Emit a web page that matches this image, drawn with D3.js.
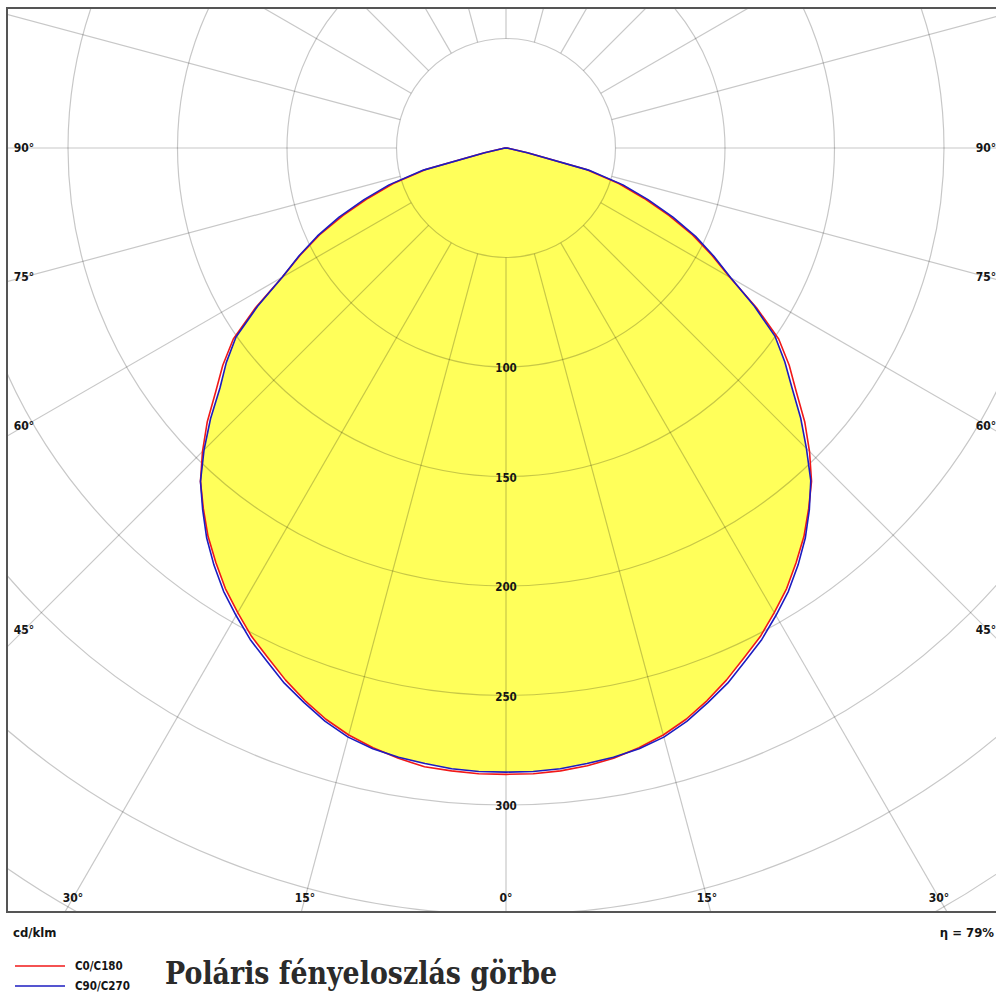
<!DOCTYPE html>
<html>
<head>
<meta charset="utf-8">
<script src="https://cdn.jsdelivr.net/npm/d3@7"></script>
<style>
  body { margin: 0; background: #fff; }
  svg { display: block; }
  .lbl { font-family: "DejaVu Sans Condensed", "DejaVu Sans", sans-serif; font-weight: bold; font-size: 11.5px; fill: #151515; }
</style>
</head>
<body>
<svg id="chart" width="996" height="995"></svg>
<script>
// gamma angles (deg) shared by every series: 0, 2.5 ... 90
const gammas = [0, 2.5, 5, 7.5, 10, 12.5, 15, 17.5, 20, 22.5, 25, 27.5, 30, 32.5, 35, 37.5, 40, 42.5, 45,
    47.5, 50, 52.5, 55, 57.5, 60, 62.5, 65, 67.5, 70, 72.5, 75, 77.5, 80, 82.5, 85, 87.5, 90];
// cd/klm values per C-plane half
const c0   = [286, 286, 285.5, 284.5, 283, 280.5, 277.5, 273.5, 268.5, 263, 257, 251.5, 245, 238.5, 231, 223.5, 215, 206.5, 196,
    185, 173, 163, 152, 135.5, 118, 106, 94, 80.5, 67, 54, 38, 10, 2, 1, 0.5, 0, 0];
const c180 = [286, 286, 285.5, 285, 283, 280.5, 277.5, 273.5, 268.5, 263, 257, 251.5, 245, 238.5, 231, 223.5, 215, 206.5, 196,
    185, 173, 163, 152, 135.5, 118, 106, 94, 80.5, 67, 54, 38, 10, 2, 1, 0.5, 0, 0];
const c90  = [285, 285, 284.5, 283.5, 282.5, 281, 278.5, 274.5, 269.5, 264.5, 258.5, 253, 246.5, 240, 232.5, 224.5, 215.5, 206, 194,
    182.5, 170.5, 160.5, 150, 134.5, 118.5, 107, 95.5, 82.5, 69, 56, 39, 10, 2, 1, 0.5, 0, 0];
const c270 = [285, 285, 284.5, 283.5, 282.5, 281, 278.5, 274.5, 269.5, 264.5, 258.5, 253, 246.5, 240, 232.5, 224.5, 215.5, 206.5, 195,
    183, 170.5, 161, 150.5, 134.5, 118, 106.5, 95, 82.5, 69, 56, 39, 10, 2, 1, 0.5, 0, 0];

const ringValues = [50, 100, 150, 200, 250, 300, 350, 400, 450];
const ringLabels = [100, 150, 200, 250, 300];
const spokeAngles = d3.range(0, 360, 15);
const sideLabels = [90, 75, 60, 45];
const bottomLabels = [30, 15, 0];
const legendItems = ['C0/C180', 'C90/C270'];
const unitText = 'cd/klm';
const etaText = 'η = 79%';
const titleText = 'Poláris fényeloszlás görbe';

const svg = d3.select('#chart');
const cx = 506;
const cy = 148;
const frame = { x: 7, y: 8, w: 998, h: 904 };

const r = d3.scaleLinear().domain([0, 300]).range([0, 657]);
const rad = (deg) => (deg * Math.PI) / 180;

const defs = svg.append('defs');

// Clip everything to the frame
defs.append('clipPath').attr('id', 'frameClip')
    .append('rect')
    .attr('x', frame.x).attr('y', frame.y)
    .attr('width', frame.w).attr('height', frame.h);

// one full curve: left half (C180 / C270) from 90 down to 0, right half (C0 / C90) from 0 up to 90
const toPoints = (left, right) => {
    const pts = [];
    for (let i = gammas.length - 1; i >= 0; i--) pts.push([Math.PI + rad(gammas[i]), r(left[i])]);
    for (let i = 0; i < gammas.length; i++) pts.push([Math.PI - rad(gammas[i]), r(right[i])]);
    return pts;
};

const radial = d3.lineRadial()
    .angle((d) => d[0])
    .radius((d) => d[1])
    .curve(d3.curveLinearClosed);

const redPts = toPoints(c180, c0);
const bluePts = toPoints(c270, c90);

const plot = svg.append('g').attr('clip-path', 'url(#frameClip)');

// Fill: area shared by both planes
defs.append('clipPath').attr('id', 'blueClip')
    .append('path')
    .attr('transform', `translate(${cx},${cy})`)
    .attr('d', radial(bluePts));

plot.append('g').attr('clip-path', 'url(#blueClip)')
    .append('path')
    .attr('transform', `translate(${cx},${cy})`)
    .attr('d', radial(redPts))
    .attr('fill', '#ffff5a');

const g = plot.append('g').attr('transform', `translate(${cx},${cy})`);

// Grid rings
g.selectAll('.ring')
    .data(ringValues)
    .enter()
    .append('circle')
    .attr('class', 'ring')
    .attr('r', (d) => r(d))
    .attr('fill', 'none')
    .attr('stroke', '#000')
    .attr('stroke-opacity', 0.22)
    .attr('stroke-width', 1.2);

// Spokes from the inner ring outwards
g.selectAll('.spoke')
    .data(spokeAngles)
    .enter()
    .append('line')
    .attr('class', 'spoke')
    .attr('x1', (d) => d3.pointRadial(rad(d), r(50))[0])
    .attr('y1', (d) => d3.pointRadial(rad(d), r(50))[1])
    .attr('x2', (d) => d3.pointRadial(rad(d), r(600))[0])
    .attr('y2', (d) => d3.pointRadial(rad(d), r(600))[1])
    .attr('stroke', '#000')
    .attr('stroke-opacity', 0.22)
    .attr('stroke-width', 1.2);

// Curves
g.append('path')
    .attr('d', radial(redPts))
    .attr('fill', 'none')
    .attr('stroke', '#f01818')
    .attr('stroke-width', 1.6)
    .attr('stroke-linejoin', 'round');

g.append('path')
    .attr('d', radial(bluePts))
    .attr('fill', 'none')
    .attr('stroke', '#1c1cc0')
    .attr('stroke-width', 1.6)
    .attr('stroke-linejoin', 'round');

// Ring labels along 0 deg
g.selectAll('.ringLbl')
    .data(ringLabels)
    .enter()
    .append('text')
    .attr('class', 'lbl')
    .attr('x', 0)
    .attr('y', (d) => r(d) + 1)
    .attr('text-anchor', 'middle')
    .attr('dominant-baseline', 'central')
    .text((d) => d);

// Angle labels on the sides
const sideX = 482;
sideLabels.forEach((a) => {
    const t = rad(90 - a);
    [-1, 1].forEach((s) => {
        g.append('text')
            .attr('class', 'lbl')
            .attr('x', s * sideX - (s > 0 ? 2 : 0))
            .attr('y', sideX * Math.tan(t))
            .attr('text-anchor', 'middle')
            .attr('dominant-baseline', 'central')
            .style('font-size', '12px')
            .text(`${a}°`);
    });
});

// Angle labels along the bottom
const bottomY = 750;
bottomLabels.forEach((a) => {
    (a === 0 ? [1] : [-1, 1]).forEach((s) => {
        g.append('text')
            .attr('class', 'lbl')
            .attr('x', s * bottomY * Math.tan(rad(a)))
            .attr('y', bottomY)
            .attr('text-anchor', 'middle')
            .attr('dominant-baseline', 'central')
            .style('font-size', '12px')
            .text(`${a}°`);
    });
});

// Frame
svg.append('rect')
    .attr('x', frame.x).attr('y', frame.y)
    .attr('width', frame.w).attr('height', frame.h)
    .attr('fill', 'none')
    .attr('stroke', '#555')
    .attr('stroke-width', 2);

// Footer texts
svg.append('text').attr('class', 'lbl')
    .attr('x', 13).attr('y', 937)
    .style('font-size', '13px')
    .text(unitText);

svg.append('text').attr('class', 'lbl')
    .attr('x', 994).attr('y', 937)
    .attr('text-anchor', 'end')
    .style('font-size', '13px')
    .text(etaText);

// Legend
const legendColors = ['#f01818', '#1c1cc0'];
const legend = svg.append('g').attr('transform', 'translate(15,966)');
legendItems.forEach((name, i) => {
    legend.append('line')
        .attr('x1', 0).attr('x2', 50)
        .attr('y1', i * 20).attr('y2', i * 20)
        .attr('stroke', legendColors[i])
        .attr('stroke-width', 1.6);
    legend.append('text')
        .attr('class', 'lbl')
        .attr('x', 60).attr('y', i * 20)
        .attr('dominant-baseline', 'central')
        .style('font-size', '11.5px')
        .text(name);
});

// Title
svg.append('text')
    .attr('x', 165).attr('y', 984)
    .attr('textLength', 392)
    .attr('lengthAdjust', 'spacingAndGlyphs')
    .style('font-family', '"DejaVu Serif", serif')
    .style('font-weight', 'bold')
    .style('font-size', '31px')
    .style('fill', '#2b2b2b')
    .text(titleText);
</script>
</body>
</html>
